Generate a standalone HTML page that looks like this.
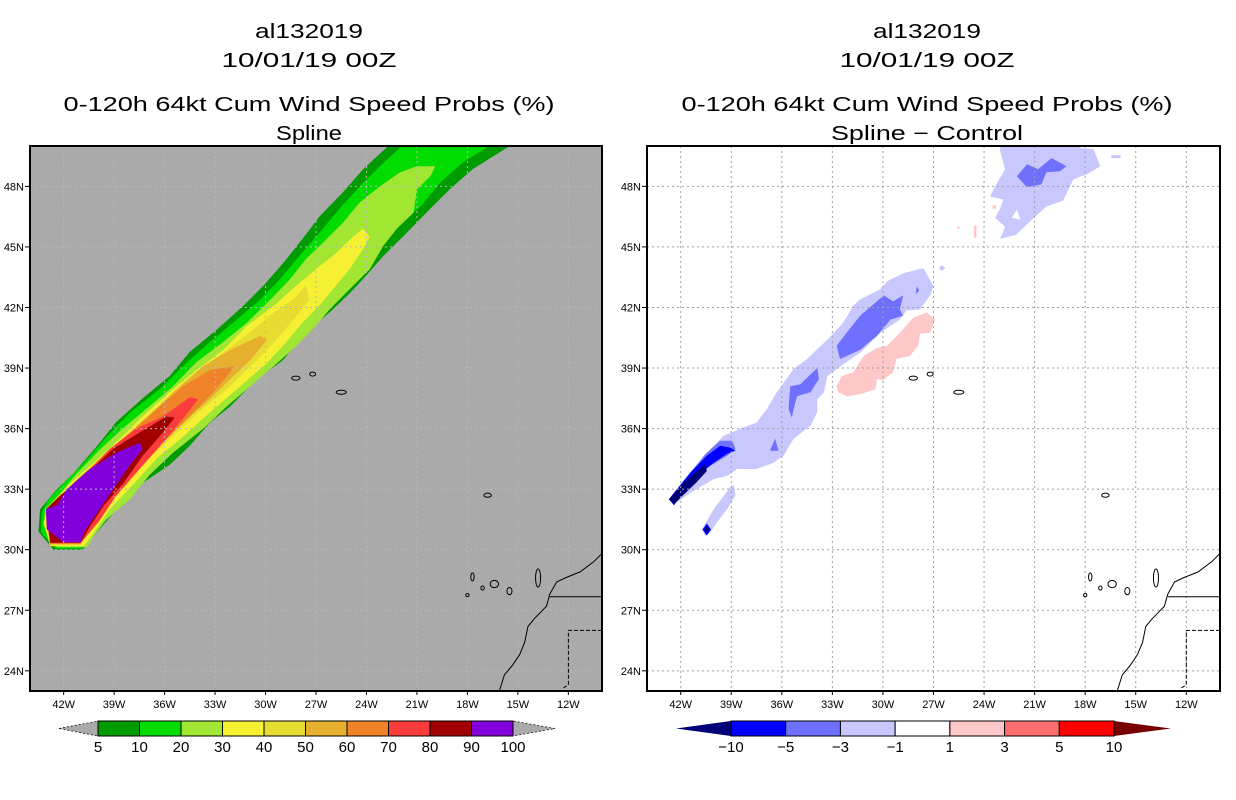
<!DOCTYPE html>
<html><head><meta charset="utf-8"><style>
html,body{margin:0;padding:0;background:#fff;}
svg{display:block;font-family:"Liberation Sans",sans-serif;}
</style></head><body>
<svg id="chart" width="1236" height="800" viewBox="0 0 1236 800" xmlns="http://www.w3.org/2000/svg">
<defs>
<clipPath id="clipL"><rect x="30" y="146" width="572" height="545"/></clipPath>
<clipPath id="clipR"><rect x="647" y="146" width="573" height="545"/></clipPath>
</defs>
<g font-size="20" text-anchor="middle" fill="#000">
<text x="309" y="38" textLength="108" lengthAdjust="spacingAndGlyphs">al132019</text>
<text x="309" y="67" textLength="175" lengthAdjust="spacingAndGlyphs">10/01/19 00Z</text>
<text x="309" y="111" textLength="491" lengthAdjust="spacingAndGlyphs">0-120h 64kt Cum Wind Speed Probs (%)</text>
<text x="309" y="140" textLength="66" lengthAdjust="spacingAndGlyphs">Spline</text>
</g>
<g font-size="20" text-anchor="middle" fill="#000">
<text x="927" y="38" textLength="108" lengthAdjust="spacingAndGlyphs">al132019</text>
<text x="927" y="67" textLength="175" lengthAdjust="spacingAndGlyphs">10/01/19 00Z</text>
<text x="927" y="111" textLength="491" lengthAdjust="spacingAndGlyphs">0-120h 64kt Cum Wind Speed Probs (%)</text>
<text x="927" y="140" textLength="192" lengthAdjust="spacingAndGlyphs">Spline − Control</text>
</g>
<g id="panelL"></g>
<g id="panelR"></g>
<g id="cbarL"></g>
<g id="cbarR"></g>
</svg>
<script>
// ---- data ----
const lonTicks = [-42,-39,-36,-33,-30,-27,-24,-21,-18,-15,-12];
const latTicks = [24,27,30,33,36,39,42,45,48];
const probLevels = [5,10,20,30,40,50,60,70,80,90,100];
const probColors = ["#009b00","#00dc00","#a0e632","#f5f032","#e6dc32","#e6af2d","#f08228","#fa3c3c","#a00000","#8200dc"];
const diffLevels = [-10,-5,-3,-1,1,3,5,10];
const diffColors = ["#0000ff","#7070ff","#c8c8ff","#ffffff","#ffc8c8","#ff6e6e","#ff0000"];
const diffLowTip = "#000078";
const diffHighTip = "#780000";

const band5 = [[-22.5,51],[-22.7,50],[-24.2,48.85],[-25.4,47.7],[-26.8,46.5],[-27.8,45.4],[-28.95,44.2],[-30.1,43.1],[-31.3,42.1],[-32.9,40.9],[-34.5,39.8],[-35.7,38.6],[-37.3,37.5],[-38.9,36.3],[-40.0,35.15],[-41.4,33.8],[-42.4,33.0],[-43.4,32.0],[-43.5,30.9],[-42.6,30.0],[-40.9,30.0],[-40.2,30.7],[-39.05,31.8],[-37.5,33.2],[-35.7,34.2],[-34.5,35.15],[-33.3,36.3],[-32.1,37.1],[-30.5,38.45],[-28.95,39.4],[-27.6,40.8],[-26.2,41.75],[-25.0,42.7],[-24.0,43.6],[-23.0,44.55],[-21.6,45.7],[-20.2,46.9],[-19.05,47.85],[-17.7,48.85],[-15.5,50],[-14,51]];
const band10 = [[-21.5,51],[-21.9,50],[-23.2,49.0],[-24.4,48.0],[-25.6,46.9],[-26.8,45.7],[-28.0,44.55],[-29.15,43.4],[-30.3,42.4],[-31.7,41.4],[-33.3,40.3],[-34.9,39.1],[-36.3,37.95],[-38.05,36.8],[-39.45,35.6],[-40.8,34.3],[-42.0,33.3],[-42.9,32.5],[-43.3,31.85],[-43.35,30.85],[-42.5,30.06],[-40.9,30.06],[-40.3,30.85],[-39.25,32.0],[-37.9,33.3],[-36.1,34.5],[-34.9,35.5],[-33.7,36.6],[-32.5,37.45],[-30.9,38.8],[-29.35,39.8],[-28.15,41.1],[-26.8,42.1],[-25.6,43.1],[-24.6,43.9],[-23.6,44.9],[-22.2,46.0],[-20.8,47.0],[-19.6,48.2],[-18.25,49.2],[-16.7,50],[-15.5,51]];
const band20 = [[-21.0,49.0],[-19.9,49.0],[-20.2,48.5],[-21.0,47.85],[-21.2,46.7],[-22.2,45.9],[-23.0,45.05],[-23.8,43.9],[-25.0,42.9],[-26.2,41.9],[-27.0,41.1],[-28.15,40.1],[-29.5,39.1],[-30.9,38.1],[-32.3,37.1],[-33.7,36.0],[-35.5,34.8],[-36.9,33.7],[-38.05,32.5],[-39.45,31.5],[-40.2,30.7],[-40.6,30.12],[-42.4,30.12],[-43.2,31.2],[-43.1,32.0],[-42.2,32.8],[-41.2,33.8],[-39.8,35.0],[-38.5,36.0],[-36.9,37.1],[-35.5,38.1],[-34.1,39.3],[-32.5,40.3],[-31.1,41.25],[-29.7,42.4],[-28.55,43.4],[-27.6,44.4],[-26.6,45.2],[-25.4,46.2],[-24.4,47.2],[-23.2,48.0],[-22.0,48.7]];
const band30 = [[-24.2,45.9],[-23.8,45.5],[-24.2,44.9],[-25.0,43.9],[-25.8,43.1],[-26.8,42.1],[-27.8,41.25],[-28.95,40.1],[-30.1,39.1],[-31.7,37.95],[-33.3,36.8],[-34.9,35.6],[-36.5,34.5],[-37.9,33.2],[-39.25,32.0],[-40.2,30.85],[-40.8,30.18],[-42.8,30.18],[-43.2,31.35],[-42.8,32.2],[-41.6,33.3],[-40.2,34.3],[-38.65,35.5],[-37.3,36.6],[-35.7,37.8],[-34.1,38.9],[-32.5,39.9],[-31.1,41.1],[-29.5,42.1],[-28.15,43.1],[-27.0,43.9],[-25.8,44.7],[-24.8,45.5]];
const band40 = [[-27.6,43.1],[-27.4,42.4],[-28.15,41.6],[-29.35,40.4],[-30.5,39.4],[-32.1,38.1],[-33.7,37.0],[-35.3,35.8],[-36.9,34.5],[-38.25,33.2],[-39.6,32.0],[-40.4,31.0],[-41.0,30.23],[-42.8,30.23],[-43.1,31.35],[-42.7,32.2],[-41.4,33.3],[-40.0,34.3],[-38.5,35.5],[-37.1,36.6],[-35.5,37.8],[-33.9,38.9],[-32.3,39.9],[-30.9,40.8],[-29.5,41.75],[-28.35,42.4]];
const band50 = [[-30.3,40.6],[-29.9,40.4],[-30.9,39.4],[-32.1,38.45],[-33.3,37.45],[-34.9,36.3],[-36.5,35.0],[-37.9,33.7],[-39.25,32.3],[-40.2,31.2],[-41.0,30.27],[-42.8,30.27],[-43.05,31.5],[-42.6,32.2],[-41.2,33.5],[-39.6,34.65],[-38.05,35.8],[-36.7,36.8],[-35.3,37.95],[-33.7,39.1],[-32.1,39.9]];
const band60 = [[-31.9,39.1],[-32.1,38.8],[-33.1,37.8],[-34.5,36.6],[-36.1,35.3],[-37.5,34.0],[-38.85,32.7],[-40.0,31.35],[-41.0,30.3],[-42.8,30.3],[-43.05,31.7],[-42.4,32.3],[-41.0,33.5],[-39.45,34.8],[-38.05,35.8],[-36.5,36.95],[-34.9,38.1],[-33.3,38.9]];
const band70 = [[-34.5,37.55],[-34.0,37.45],[-34.9,36.5],[-36.1,35.3],[-37.5,34.0],[-38.85,32.7],[-39.9,31.4],[-41.0,30.32],[-42.8,30.32],[-43.05,31.85],[-42.2,32.5],[-40.8,33.7],[-39.25,35.0],[-37.7,36.0],[-36.1,36.6]];
const band80 = [[-35.9,36.6],[-35.4,36.55],[-36.1,35.8],[-37.3,34.65],[-38.45,33.3],[-39.6,32.2],[-40.4,31.2],[-41.0,30.34],[-42.8,30.34],[-43.05,32.0],[-42.2,32.7],[-40.6,33.8],[-39.05,35.0],[-37.5,35.8]];
const band90 = [[-37.5,35.3],[-37.3,35.0],[-38.05,34.2],[-39.05,33.0],[-40.0,31.85],[-40.8,30.85],[-41.0,30.37],[-42.0,30.37],[-43.0,31.0],[-43.05,32.0],[-42.4,32.2],[-41.8,33.0],[-40.45,34.0],[-38.85,34.8]];
const probBands = [band5,band10,band20,band30,band40,band50,band60,band70,band80,band90];

const diffLight = [
 [[-23.05,50.3],[-18.3,50.3],[-18.3,49.9],[-17.5,49.85],[-17.1,49.0],[-17.9,48.6],[-18.7,48.35],[-19.3,47.3],[-20.3,47.0],[-21.1,46.4],[-22.1,45.6],[-23.05,45.4],[-22.75,46.0],[-23.35,46.45],[-23.05,46.9],[-22.85,47.35],[-23.65,47.5],[-23.35,48.0],[-22.75,48.85],[-23.05,49.75]],
 [[-27.6,43.95],[-27.0,43.05],[-27.2,42.6],[-27.8,41.9],[-28.6,41.85],[-29.0,41.4],[-30.15,40.75],[-31.35,39.75],[-32.5,39.1],[-33.3,38.6],[-33.5,37.8],[-33.9,37.45],[-33.9,36.8],[-34.3,36.15],[-35.3,35.5],[-35.9,34.65],[-36.5,34.3],[-37.5,34.0],[-38.65,34.0],[-39.25,33.65],[-40.05,33.5],[-41.05,33.0],[-41.65,32.7],[-42.4,32.2],[-42.6,32.5],[-41.8,33.35],[-40.65,34.65],[-39.45,35.65],[-38.45,36.0],[-37.5,36.3],[-36.9,36.95],[-36.3,37.8],[-35.3,38.95],[-34.5,39.45],[-33.3,40.4],[-32.35,41.25],[-31.75,42.1],[-31.35,42.4],[-30.15,42.9],[-29.75,43.3],[-28.8,43.7]],
 [[-38.85,33.2],[-38.75,32.7],[-39.25,32.0],[-39.85,31.35],[-40.25,30.85],[-40.55,30.7],[-40.75,31.0],[-40.05,32.0],[-39.05,33.1]],
 [[-26.5,44.1],[-26.3,43.95],[-26.5,43.8],[-26.7,43.95]],
 [[-16.45,49.55],[-15.9,49.55],[-15.9,49.4],[-16.45,49.4]]
];
const diffHoles = [
 [[-22.35,46.45],[-22.05,46.85],[-21.85,46.35]]
];
const diffMed = [
 [[-22.05,48.5],[-21.45,49.1],[-20.8,48.85],[-20.0,49.4],[-19.1,49.0],[-19.5,48.75],[-20.3,48.7],[-20.6,48.1],[-21.45,47.95]],
 [[-32.75,40.1],[-32.15,40.75],[-31.35,41.6],[-29.95,42.6],[-29.4,42.3],[-28.8,42.6],[-29.0,41.9],[-28.8,41.6],[-29.55,41.4],[-30.35,40.6],[-31.35,39.9],[-32.55,39.45]],
 [[-28.0,43.05],[-27.85,42.85],[-28.05,42.65]],
 [[-35.5,38.1],[-34.9,38.2],[-33.9,39.0],[-33.8,38.45],[-34.3,37.8],[-35.1,37.6],[-35.3,36.95],[-35.4,36.55],[-35.6,36.95],[-35.55,37.6]],
 [[-36.7,34.9],[-36.4,35.5],[-36.2,34.9]],
 [[-42.7,32.5],[-41.6,33.65],[-40.45,34.8],[-39.65,35.4],[-38.95,35.4],[-38.75,35.0],[-39.25,34.65],[-40.25,34.15],[-41.25,33.5],[-42.0,32.75],[-42.4,32.2]]
];
const diffBlue = [
 [[-42.7,32.5],[-41.45,33.8],[-40.45,34.65],[-39.65,35.15],[-39.05,35.05],[-38.75,34.9],[-39.25,34.75],[-40.05,34.3],[-41.05,33.65],[-42.0,32.85],[-42.4,32.2]],
 [[-40.45,31.3],[-40.2,31.0],[-40.45,30.7],[-40.7,31.0]]
];
const diffNavy = [
 [[-42.7,32.5],[-41.8,33.35],[-40.55,34.25],[-40.45,33.9],[-41.05,33.35],[-41.8,32.75],[-42.4,32.25]],
 [[-40.45,31.15],[-40.3,31.0],[-40.45,30.85],[-40.6,31.0]]
];
const diffPink = [
 [[-32.75,38.1],[-32.45,38.6],[-31.75,38.8],[-31.15,39.6],[-30.35,40.0],[-29.75,40.1],[-29.0,40.75],[-28.2,41.5],[-27.4,41.75],[-26.9,41.4],[-27.2,40.75],[-27.8,40.7],[-27.9,40.1],[-28.4,39.6],[-29.2,39.45],[-29.4,38.8],[-30.0,38.4],[-30.35,38.45],[-30.45,37.95],[-31.35,37.7],[-32.15,37.6],[-32.65,37.8]],
 [[-24.6,46.05],[-24.45,46.05],[-24.45,45.45],[-24.6,45.45]],
 [[-23.5,47.05],[-23.3,47.05],[-23.3,46.9],[-23.5,46.9]],
 [[-25.6,46.0],[-25.45,46.0],[-25.45,45.9],[-25.6,45.9]]
];
const coast = [[-9.9,29.9],[-10.5,29.4],[-11.3,28.9],[-12.2,28.6],[-12.7,28.4],[-13.1,27.8],[-13.3,27.2],[-14.0,26.6],[-14.4,26.2],[-14.6,25.4],[-14.9,24.8],[-15.3,24.3],[-15.8,23.8],[-16.1,23.0]];
const border1 = [[-13.1,27.67],[-10,27.67]];
const border2 = [[-10,26.0],[-12.0,26.0],[-12.0,23.3],[-12.4,23.1]];
const islands = [[-28.2,38.5,0.25,0.1],[-27.2,38.7,0.18,0.1],[-25.5,37.8,0.3,0.1],[-16.8,32.7,0.22,0.1],[-17.7,28.65,0.1,0.2],[-17.1,28.1,0.1,0.1],[-16.4,28.3,0.25,0.18],[-15.5,27.95,0.15,0.18],[-13.8,28.6,0.15,0.45],[-18.0,27.75,0.1,0.08]];

// ---- helpers ----
const NS = "http://www.w3.org/2000/svg";
const panels = {L:{x0:30,y0:146,w:572,h:545}, R:{x0:647,y0:146,w:573,h:545}};
const LON0=-44, LON1=-10, LAT0=23, LAT1=50;
function px(p,lon){return p.x0+(lon-LON0)/(LON1-LON0)*p.w;}
function py(p,lat){return p.y0+(LAT1-lat)/(LAT1-LAT0)*p.h;}
function mk(tag,attrs,parent){const e=document.createElementNS(NS,tag);for(const k in attrs)e.setAttribute(k,attrs[k]);parent.appendChild(e);return e;}
function pts(p,poly){return poly.map(q=>px(p,q[0]).toFixed(1)+","+py(p,q[1]).toFixed(1)).join(" ");}

function drawPanel(id,key,bg,fills,gridColor){
  const p=panels[key]; const g=document.getElementById(id);
  const bgR=mk("rect",{x:p.x0,y:p.y0,width:p.w,height:p.h,fill:bg},g);
  
  
  const cg=mk("g",{"clip-path":"url(#clip"+key+")"},g);
  
  
  fills.forEach(f=>{f.polys.forEach(poly=>{
    const e=mk("polygon",{points:pts(p,poly),fill:f.color},cg);
    
    
  });});
  const gg=mk("g",{"clip-path":"url(#clip"+key+")",stroke:gridColor,"stroke-width":1,"stroke-dasharray":"2,3"},g);
  
  
  lonTicks.forEach(l=>{const x=px(p,l);mk("line",{x1:x,x2:x,y1:p.y0,y2:p.y0+p.h},gg);});
  latTicks.forEach(l=>{const y=py(p,l);mk("line",{x1:p.x0,x2:p.x0+p.w,y1:y,y2:y},gg);});
  const mg=mk("g",{"clip-path":"url(#clip"+key+")",fill:"none",stroke:"#000","stroke-width":1},g);
  
  
  mk("polyline",{points:pts(p,coast)},mg);
  mk("polyline",{points:pts(p,border1)},mg);
  mk("polyline",{points:pts(p,border2),"stroke-dasharray":"4,2"},mg);
  islands.forEach(i=>{const e=mk("ellipse",{cx:px(p,i[0]),cy:py(p,i[1]),rx:i[2]/(LON1-LON0)*p.w,ry:i[3]/(LAT1-LAT0)*p.h},mg);
    
    });
  const fr=mk("rect",{x:p.x0,y:p.y0,width:p.w,height:p.h,fill:"none",stroke:"#000","stroke-width":2},g);
  
  
  const ax=mk("g",{"font-size":11,fill:"#000"},g);
  
  
  latTicks.forEach(l=>{const y=py(p,l);
    mk("line",{x1:p.x0-5,x2:p.x0,y1:y,y2:y,stroke:"#000"},ax);
    const t=mk("text",{x:p.x0-6,y:y+4,"text-anchor":"end"},ax);t.textContent=l+"N";
    
    });
  lonTicks.forEach(l=>{const x=px(p,l);
    mk("line",{x1:x,x2:x,y1:p.y0+p.h,y2:p.y0+p.h+4,stroke:"#000"},ax);
    const t=mk("text",{x:x,y:p.y0+p.h+17,"text-anchor":"middle"},ax);t.textContent=(-l)+"W";
    
    });
}

drawPanel("panelL","L","#aaaaaa",probBands.map((b,i)=>({polys:[b],color:probColors[i],name:"prob-"+probLevels[i]})),"#b8b8b8");
drawPanel("panelR","R","#ffffff",[
  {polys:diffLight,color:diffColors[2],name:"diff-minus3-minus1"},
  {polys:diffHoles,color:"#ffffff",name:"diff-neutral"},
  {polys:diffPink,color:diffColors[4],name:"diff-1-3"},
  {polys:diffMed,color:diffColors[1],name:"diff-minus5-minus3"},
  {polys:diffBlue,color:diffColors[0],name:"diff-minus10-minus5"},
  {polys:diffNavy,color:diffLowTip,name:"diff-below-minus10"}
],"#a0a0a0");

function drawBar(id,x0,x1,tipL,tipR,colors,labels,lowTip,highTip,dashedTips){
  const g=document.getElementById(id); const y0=721,y1=736,ym=(y0+y1)/2;
  const n=colors.length, bw=(x1-x0)/n;
  const a=mk("polygon",{points:`${tipL},${ym} ${x0},${y0} ${x0},${y1}`,fill:lowTip,stroke:dashedTips?"#000":"none","stroke-dasharray":"2,2","stroke-width":0.7},g);
  
  
  const b=mk("polygon",{points:`${tipR},${ym} ${x1},${y0} ${x1},${y1}`,fill:highTip,stroke:dashedTips?"#000":"none","stroke-dasharray":"2,2","stroke-width":0.7},g);
  
  
  colors.forEach((c,i)=>{const r=mk("rect",{x:x0+i*bw,y:y0,width:bw,height:y1-y0,fill:c,stroke:"#000","stroke-width":1},g);
    
    });
  labels.forEach((l,i)=>{const t=mk("text",{x:x0+i*bw,y:752,"text-anchor":"middle","font-size":15},g);
    t.textContent=(l<0?"−"+(-l):l);
    
    });
}
drawBar("cbarL",98,513,59,555,probColors,probLevels,"#aaaaaa","#aaaaaa",true);
drawBar("cbarR",731,1114,676,1171,diffColors,diffLevels,diffLowTip,diffHighTip,false);
</script>
</body></html>
